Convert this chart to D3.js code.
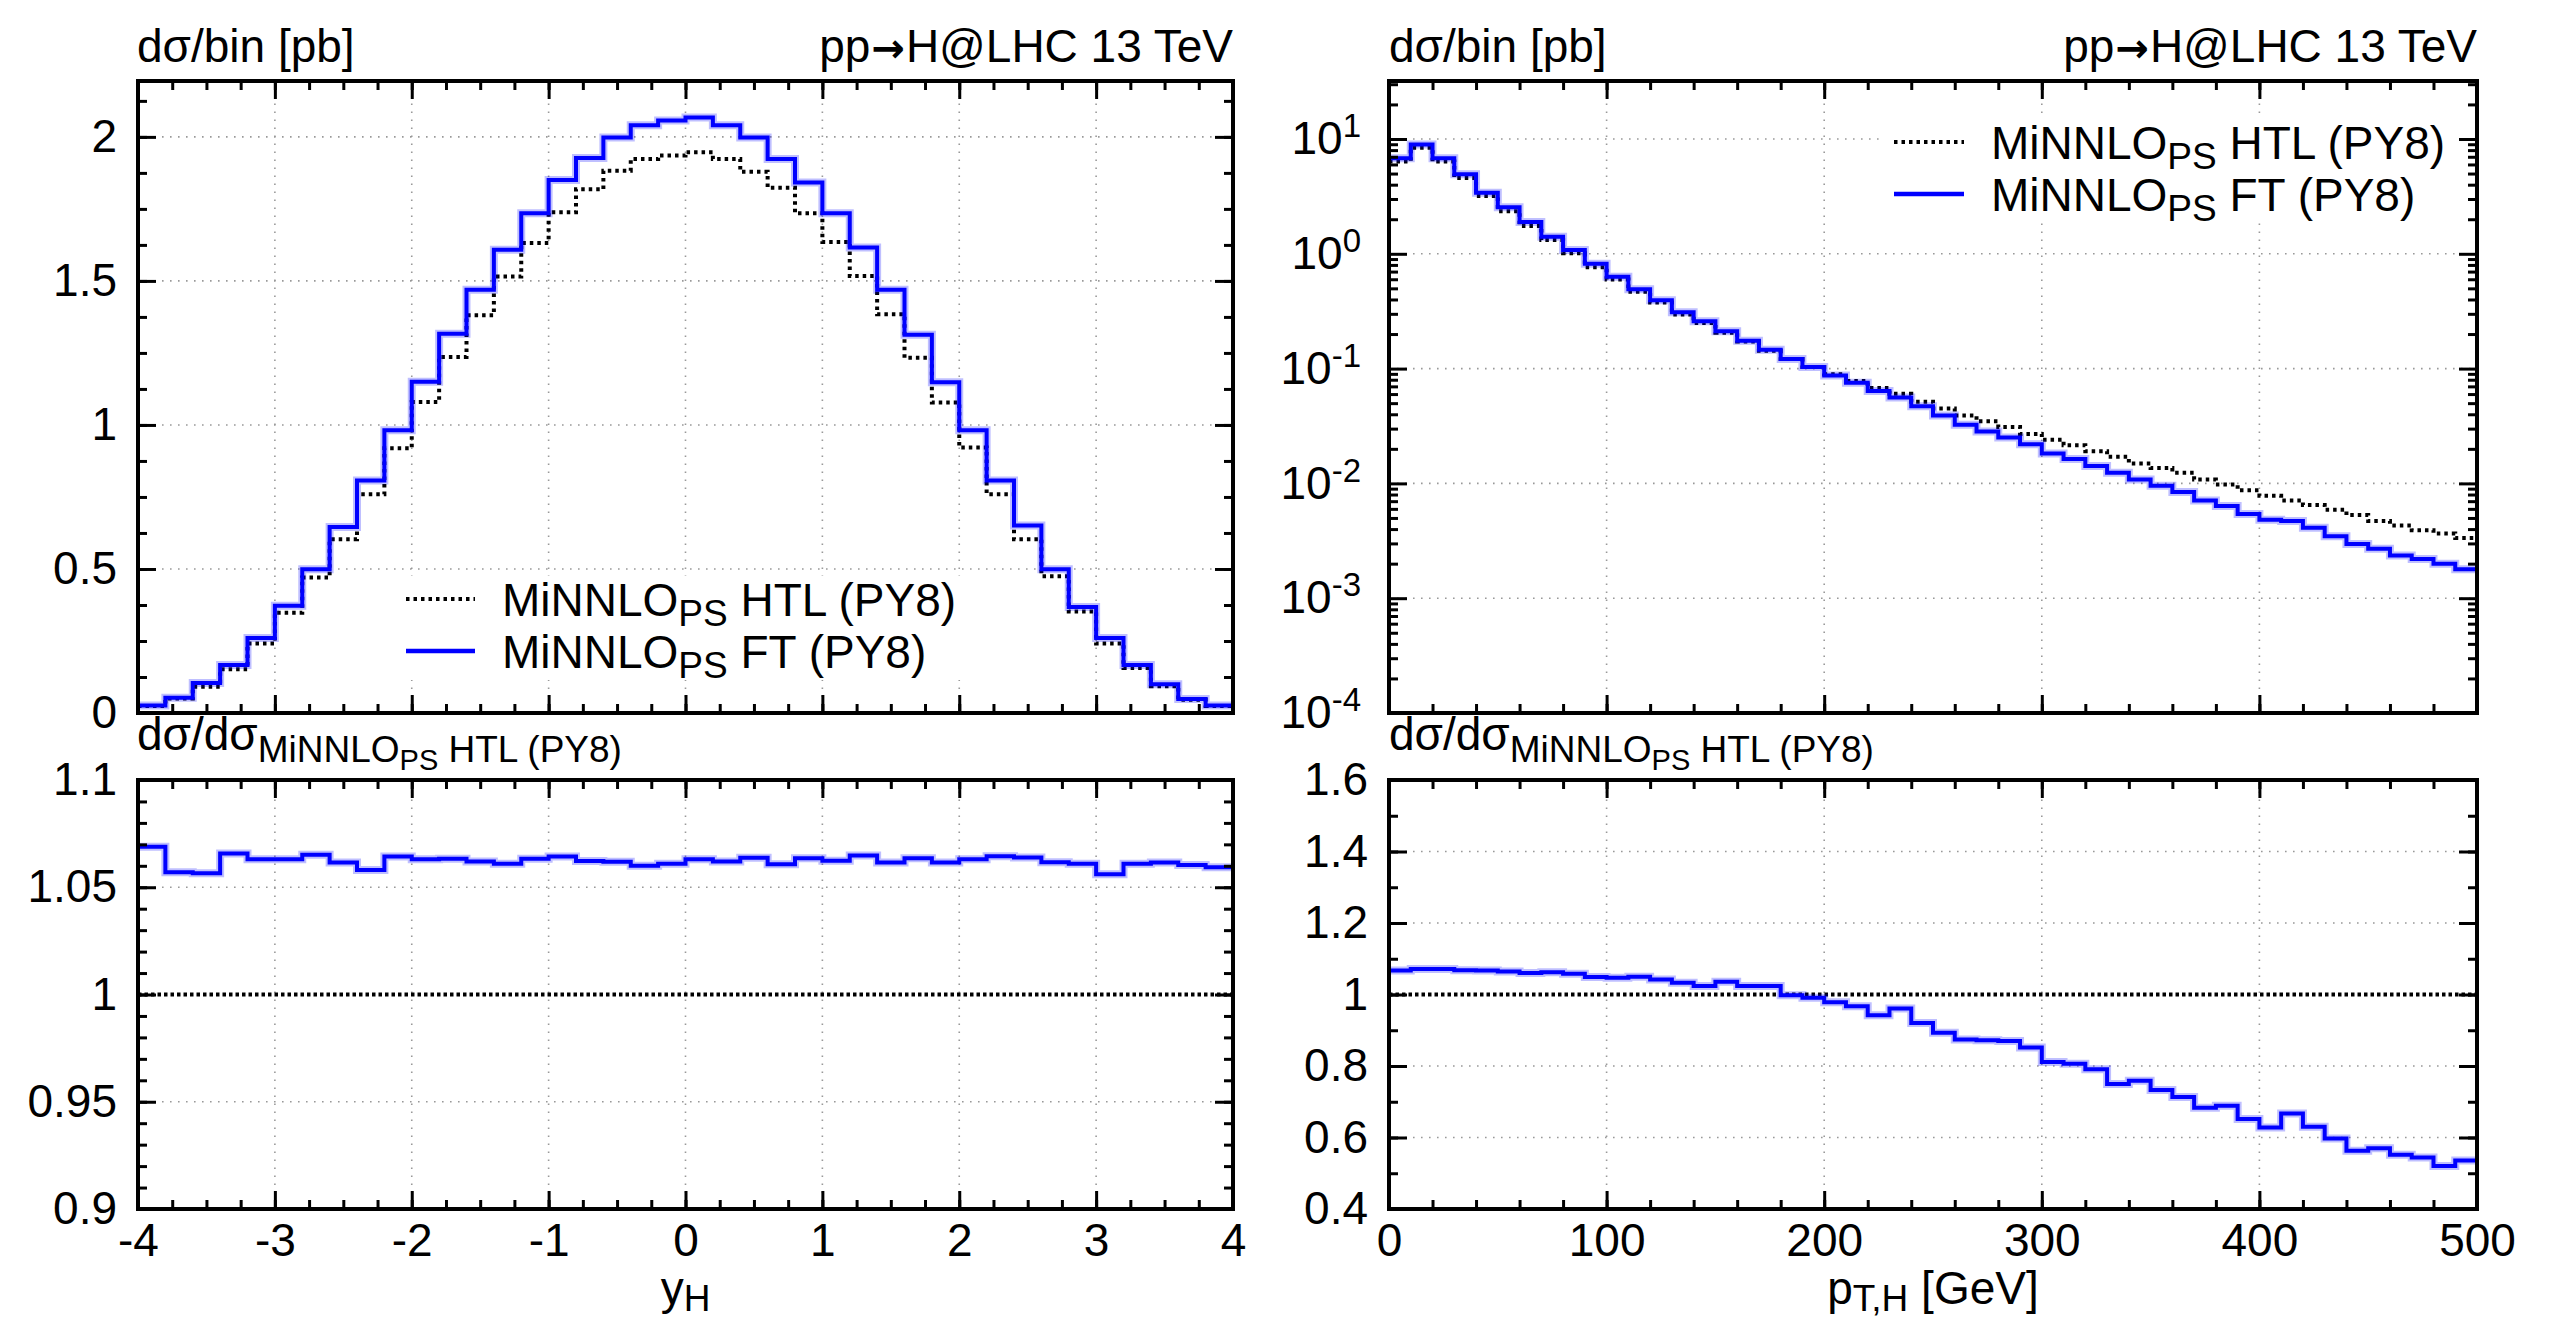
<!DOCTYPE html>
<html>
<head>
<meta charset="utf-8">
<script src="https://cdn.jsdelivr.net/npm/d3@7"></script>
<style>
  body { margin: 0; background: #fff; }
  text { font-family: "Liberation Sans", Arial, Helvetica, sans-serif; fill: #000; }
</style>
</head>
<body>
<script>
var width = 2566,
    height = 1323;

// Higgs rapidity, 40 bins of 0.2 between -4 and 4
var yhEdges = d3.range(41).map(function(i) { return -4 + 0.2 * i; });
var yhHTL = [0.024, 0.050, 0.091, 0.152, 0.241, 0.348, 0.470, 0.603, 0.759, 0.919,
             1.080, 1.236, 1.381, 1.515, 1.632, 1.738, 1.818, 1.882, 1.923, 1.935,
             1.947, 1.923, 1.879, 1.823, 1.735, 1.635, 1.517, 1.384, 1.233, 1.078,
             0.922, 0.759, 0.603, 0.475, 0.352, 0.241, 0.156, 0.093, 0.046, 0.024];
var yhFT  = [0.026, 0.053, 0.104, 0.167, 0.260, 0.372, 0.499, 0.646, 0.807, 0.982,
             1.150, 1.317, 1.469, 1.608, 1.735, 1.850, 1.927, 1.998, 2.040, 2.057,
             2.067, 2.040, 1.998, 1.923, 1.842, 1.735, 1.616, 1.469, 1.313, 1.148,
             0.982, 0.807, 0.651, 0.499, 0.368, 0.260, 0.167, 0.100, 0.049, 0.026];
var yhRatio = [1.0689, 1.0570, 1.0565, 1.0657, 1.0630, 1.0630, 1.0652, 1.0615, 1.0580, 1.0643,
               1.0630, 1.0633, 1.0620, 1.0610, 1.0633, 1.0643, 1.0622, 1.0619, 1.0600, 1.0610,
               1.0630, 1.0620, 1.0637, 1.0607, 1.0635, 1.0624, 1.0648, 1.0615, 1.0635, 1.0615,
               1.0630, 1.0644, 1.0639, 1.0617, 1.0610, 1.0561, 1.0609, 1.0615, 1.0604, 1.0593];

// Higgs transverse momentum, 50 bins of 10 GeV between 0 and 500
var ptEdges = d3.range(51).map(function(i) { return 10 * i; });
var ptHTL = [6.36, 8.4, 6.36, 4.57, 3.19, 2.35, 1.75, 1.32, 1.01, 0.765,
             0.597, 0.466, 0.377, 0.296, 0.249, 0.205, 0.172, 0.143, 0.121, 0.103,
             0.0895, 0.078, 0.0679, 0.0603, 0.0515, 0.0449, 0.0391, 0.0347, 0.031, 0.027,
             0.024, 0.0215, 0.0191, 0.0171, 0.0149, 0.0136, 0.0124, 0.0108, 0.0098, 0.0087,
             0.0078, 0.0071, 0.0065, 0.0059, 0.0053, 0.0047, 0.0043, 0.0039, 0.00366, 0.00334];
var ptFT  = [6.8, 8.95, 6.8, 4.92, 3.40, 2.54, 1.89, 1.41, 1.08, 0.817,
             0.631, 0.492, 0.394, 0.310, 0.258, 0.211, 0.175, 0.146, 0.121, 0.103,
             0.0871, 0.0752, 0.0637, 0.056, 0.047, 0.0391, 0.0325, 0.0283, 0.0251, 0.0219,
             0.0182, 0.0163, 0.0142, 0.0124, 0.0108, 0.00955, 0.0084, 0.0071, 0.00637, 0.0054,
             0.00483, 0.0047, 0.0041, 0.00347, 0.00296, 0.0027, 0.00236, 0.00219, 0.0020, 0.00179];
var ptRatio = [1.067, 1.071, 1.071, 1.068, 1.067, 1.064, 1.060, 1.062, 1.058, 1.049,
               1.047, 1.050, 1.042, 1.033, 1.024, 1.036, 1.024, 1.024, 0.998, 0.991,
               0.978, 0.967, 0.942, 0.961, 0.920, 0.893, 0.874, 0.872, 0.870, 0.852,
               0.811, 0.806, 0.791, 0.750, 0.759, 0.733, 0.713, 0.683, 0.689, 0.652,
               0.628, 0.667, 0.630, 0.597, 0.563, 0.570, 0.552, 0.544, 0.520, 0.536];

// tick values
var yhTicks = [-4, -3, -2, -1, 0, 1, 2, 3, 4];
var ptTicks = [0, 100, 200, 300, 400, 500];
var xsecTicks = [0, 0.5, 1, 1.5, 2];
var logTicks = [1e-4, 1e-3, 1e-2, 1e-1, 1, 10];
var yhRatioTicks = [0.9, 0.95, 1, 1.05, 1.1];
var ptRatioTicks = [0.4, 0.6, 0.8, 1, 1.2, 1.4, 1.6];

var seriesNames = ["HTL (PY8)", "FT (PY8)"];

var fs = 46;
var blue = "#0000ff";

var svg = d3.select("body").append("svg")
    .attr("width", width)
    .attr("height", height)
    .style("background", "#fff");

// panel geometry
var xL = d3.scaleLinear().domain([-4, 4]).range([138, 1233]);
var xR = d3.scaleLinear().domain([0, 500]).range([1389, 2477]);
var yUL = d3.scaleLinear().domain([0, 2.194]).range([713, 81]);
var yUR = d3.scaleLog().domain([1e-4, 32]).range([713, 81]);
var yLL = d3.scaleLinear().domain([0.9, 1.1]).range([1209, 780]);
var yLR = d3.scaleLinear().domain([0.4, 1.6]).range([1209, 780]);

function minorSteps(a, b, step) {
  return d3.range(Math.round((b - a) / step) + 1).map(function(i) { return +(a + i * step).toFixed(4); });
}

var logMinor = [];
logTicks.forEach(function(d) {
  for (var m = 2; m <= 9; m++) if (d * m < 32) logMinor.push(d * m);
});

function stepPath(x, y, edges, vals) {
  var pts = vals.map(function(v, i) { return [edges[i], v]; });
  pts.push([edges[vals.length], vals[vals.length - 1]]);
  return d3.line()
      .x(function(d) { return x(d[0]); })
      .y(function(d) { return y(d[1]); })
      .curve(d3.curveStepAfter)(pts);
}

function grid(g, x, y, xs, ys) {
  var x0 = x.range()[0], x1 = x.range()[1], y0 = y.range()[0], y1 = y.range()[1];
  g.selectAll("line.gx").data(xs).enter().append("line")
      .attr("x1", function(d) { return x(d); }).attr("x2", function(d) { return x(d); })
      .attr("y1", y0).attr("y2", y1);
  g.selectAll("line.gy").data(ys).enter().append("line")
      .attr("y1", function(d) { return y(d); }).attr("y2", function(d) { return y(d); })
      .attr("x1", x0).attr("x2", x1);
  g.selectAll("line")
      .attr("stroke", "#999")
      .attr("stroke-width", 1.6)
      .attr("stroke-dasharray", "1.6,6.4");
}

function styleAxis(a) {
  a.select(".domain").remove();
  a.attr("font-size", fs).attr("font-family", null);
  a.selectAll(".tick line").attr("stroke", "#000").attr("stroke-width", 3);
}

function axes(g, x, y, o) {
  var x0 = x.range()[0], x1 = x.range()[1], y0 = y.range()[0], y1 = y.range()[1];
  [[o.xMajor, 18], [o.xMinor, 9]].forEach(function(t) {
    var bottom = g.append("g").attr("transform", "translate(0," + y0 + ")")
        .call(d3.axisBottom(x).tickValues(t[0]).tickSizeInner(-t[1]).tickSizeOuter(0)
            .tickPadding(14).tickFormat(t[1] == 18 && o.xFmt ? o.xFmt : ""))
        .call(styleAxis);
    if (!(t[1] == 18 && o.xFmt)) bottom.selectAll(".tick text").remove();
    g.append("g").attr("transform", "translate(0," + y1 + ")")
        .call(d3.axisTop(x).tickValues(t[0]).tickSizeInner(-t[1]).tickSizeOuter(0).tickFormat(""))
        .call(styleAxis)
        .selectAll(".tick text").remove();
  });
  [[o.yMajor, 18], [o.yMinor, 9]].forEach(function(t) {
    var left = g.append("g").attr("transform", "translate(" + x0 + ",0)")
        .call(d3.axisLeft(y).tickValues(t[0]).tickSizeInner(-t[1]).tickSizeOuter(0)
            .tickPadding(o.yPad).tickFormat(t[1] == 18 ? o.yFmt : ""))
        .call(styleAxis);
    if (t[1] != 18) left.selectAll(".tick text").remove();
    if (t[1] == 18 && o.log) {
      left.selectAll(".tick text").text(null).each(function(d) {
        var t = d3.select(this);
        t.append("tspan").text("10");
        t.append("tspan").attr("dy", -17).attr("font-size", 33).text(Math.round(Math.log10(d)));
      });
    }
    g.append("g").attr("transform", "translate(" + x1 + ",0)")
        .call(d3.axisRight(y).tickValues(t[0]).tickSizeInner(-t[1]).tickSizeOuter(0).tickFormat(""))
        .call(styleAxis)
        .selectAll(".tick text").remove();
  });
  g.append("rect")
      .attr("x", x0).attr("y", y1)
      .attr("width", x1 - x0).attr("height", y0 - y1)
      .attr("fill", "none").attr("stroke", "#000").attr("stroke-width", 4);
}

// text made of pieces [string, size, dy, dx, font]
function richText(g, x, y, parts, anchor) {
  var t = g.append("text").attr("x", x).attr("y", y).attr("font-size", fs)
      .attr("text-anchor", anchor || "start");
  parts.forEach(function(p) {
    var s = t.append("tspan").attr("font-size", p[1] || fs).attr("dy", p[2] || 0).text(p[0]);
    if (p[3]) s.attr("dx", p[3]);
    if (p[4]) s.style("font-family", p[4]).attr("font-weight", "bold");
  });
  return t;
}

function title(g, x, y) {
  richText(g, x, y, [["pp"], ["\u2192", 40, 0, 1, "DejaVu Sans"], ["H@LHC 13 TeV", fs, 0, 1]], "end");
}

function curves(g, x, y, edges, htl, ft) {
  g.append("path").attr("d", stepPath(x, y, edges, htl))
      .attr("fill", "none").attr("stroke", "#000").attr("stroke-width", 4)
      .attr("stroke-dasharray", "3.5,4");
  g.append("path").attr("d", stepPath(x, y, edges, ft))
      .attr("fill", "none").attr("stroke", blue).attr("stroke-opacity", 0.25).attr("stroke-width", 8);
  g.append("path").attr("d", stepPath(x, y, edges, ft))
      .attr("fill", "none").attr("stroke", blue).attr("stroke-width", 4);
}

function ratioCurve(g, x, y, edges, r) {
  g.append("line")
      .attr("x1", x.range()[0]).attr("x2", x.range()[1])
      .attr("y1", y(1)).attr("y2", y(1))
      .attr("stroke", "#000").attr("stroke-width", 4).attr("stroke-dasharray", "3.5,3");
  g.append("path").attr("d", stepPath(x, y, edges, r))
      .attr("fill", "none").attr("stroke", blue).attr("stroke-opacity", 0.25).attr("stroke-width", 8);
  g.append("path").attr("d", stepPath(x, y, edges, r))
      .attr("fill", "none").attr("stroke", blue).attr("stroke-width", 4);
}

function legend(g, lx0, lx1, tx, ly, box) {
  g.append("rect").attr("x", box[0]).attr("y", box[1])
      .attr("width", box[2]).attr("height", box[3]).attr("fill", "#fff");
  seriesNames.forEach(function(name, i) {
    var yy = ly + 52 * i;
    var l = g.append("line").attr("x1", lx0).attr("x2", lx1).attr("y1", yy).attr("y2", yy);
    if (i == 0) l.attr("stroke", "#000").attr("stroke-width", 4).attr("stroke-dasharray", "3.5,4");
    else l.attr("stroke", blue).attr("stroke-width", 4.5);
    richText(g, tx, yy + 17, [["MiNNLO"], ["PS", 37, 10], [" " + name, fs, -10]]);
  });
}

function ratioLabel(g, x, y) {
  richText(g, x, y, [["d\u03c3/d\u03c3"], ["MiNNLO", 37, 12], ["PS", 29, 8], [" HTL (PY8)", 37, -8]]);
}

var fmt = function(d) { return String(+d.toFixed(2)); };

// ---- left: rapidity ----
var gUL = svg.append("g");
grid(gUL, xL, yUL, [-3, -2, -1, 0, 1, 2, 3], [0.5, 1, 1.5, 2]);
legend(gUL, 406, 475, 502, 599, [396, 576, 590, 104]);
curves(gUL, xL, yUL, yhEdges, yhHTL, yhFT);
axes(gUL, xL, yUL, { xMajor: yhTicks, xMinor: minorSteps(-4, 4, 0.25),
  yMajor: xsecTicks, yMinor: minorSteps(0, 2.125, 0.125), yFmt: fmt, yPad: 21 });
richText(gUL, 137, 62, [["d\u03c3/bin [pb]"]]);
title(gUL, 1233, 62);

var gLL = svg.append("g");
grid(gLL, xL, yLL, [-3, -2, -1, 0, 1, 2, 3], [0.95, 1.05]);
ratioCurve(gLL, xL, yLL, yhEdges, yhRatio);
axes(gLL, xL, yLL, { xMajor: yhTicks, xMinor: minorSteps(-4, 4, 0.25), xFmt: fmt,
  yMajor: yhRatioTicks, yMinor: minorSteps(0.9, 1.1, 0.01), yFmt: fmt, yPad: 21 });
ratioLabel(gLL, 137, 750);
richText(gLL, (xL.range()[0] + xL.range()[1]) / 2, 1304, [["y"], ["H", 37, 7]], "middle");

// ---- right: transverse momentum ----
var gUR = svg.append("g");
grid(gUR, xR, yUR, [100, 200, 300, 400], [1e-3, 1e-2, 1e-1, 1, 10]);
legend(gUR, 1894, 1964, 1991, 142, [1882, 118, 590, 104]);
curves(gUR, xR, yUR, ptEdges, ptHTL, ptFT);
axes(gUR, xR, yUR, { xMajor: ptTicks, xMinor: minorSteps(0, 500, 20),
  yMajor: logTicks, yMinor: logMinor, yFmt: fmt, yPad: 28, log: true });
richText(gUR, 1389, 62, [["d\u03c3/bin [pb]"]]);
title(gUR, 2477, 62);

var gLR = svg.append("g");
grid(gLR, xR, yLR, [100, 200, 300, 400], [0.6, 0.8, 1.2, 1.4]);
ratioCurve(gLR, xR, yLR, ptEdges, ptRatio);
axes(gLR, xR, yLR, { xMajor: ptTicks, xMinor: minorSteps(0, 500, 20), xFmt: fmt,
  yMajor: ptRatioTicks, yMinor: minorSteps(0.4, 1.6, 0.1), yFmt: fmt, yPad: 21 });
ratioLabel(gLR, 1389, 750);
richText(gLR, (xR.range()[0] + xR.range()[1]) / 2, 1304, [["p"], ["T,H", 37, 7], [" [GeV]", fs, -7]], "middle");
</script>
</body>
</html>
